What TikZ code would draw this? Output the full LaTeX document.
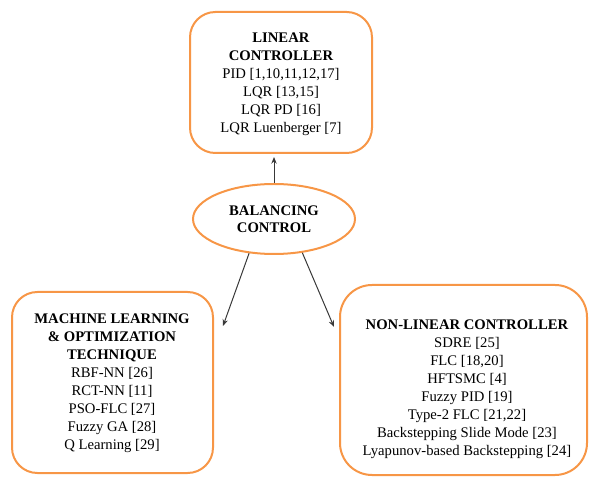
\documentclass[tikz,border=0pt]{standalone}
\usepackage{fontspec}
\setmainfont{Liberation Serif}
\usetikzlibrary{arrows.meta,shapes.geometric}

\definecolor{boxorange}{RGB}{247,150,70}
\definecolor{arrowgray}{RGB}{56,56,56}

\tikzset{
  panel/.style={draw=boxorange,line width=1.5pt,rounded corners=#1,fill=white},
  panel/.default=19pt,
  hub/.style={ellipse,draw=boxorange,line width=1.5pt,align=center,
    inner sep=0pt,minimum width=121.5pt,minimum height=52.5pt,
    font=\fontsize{11}{13}\selectfont\bfseries},
  entries/.style={align=center,font=\fontsize{11}{13.5}\selectfont},
  link/.style={->,draw=arrowgray,line width=0.75pt}
}

\begin{document}
\begin{tikzpicture}[x=0.75pt,y=-0.75pt,>={Stealth[length=5pt,width=4pt]}]
      \useasboundingbox (0,0) rectangle (589,484);

      % boxes
      \node[panel,minimum width=136.5pt,minimum height=105.75pt] (linbox) at (281,82.5) {};
      \node[panel,minimum width=150.75pt,minimum height=135.75pt] (mlbox)  at (112.5,382.5) {};
      \node[panel=24pt,minimum width=185.25pt,minimum height=142.5pt] (nlbox) at (463.5,380) {};
      \node[hub] (ctrl) at (274,219) {BALANCING\\CONTROL};

      % contents
      \node[entries] (lintext) at (281,84) {\textbf{LINEAR}\\\textbf{CONTROLLER}\\PID [1,10,11,12,17]\\LQR [13,15]\\LQR PD [16]\\LQR Luenberger [7]};
      \node[entries] (mltext) at (112,383) {\textbf{MACHINE LEARNING}\\\textbf{\& OPTIMIZATION}\\\textbf{TECHNIQUE}\\RBF-NN [26]\\RCT-NN [11]\\PSO-FLC [27]\\Fuzzy GA [28]\\Q Learning [29]};
      \node[entries] (nltext) at (467,389) {\textbf{NON-LINEAR CONTROLLER}\\SDRE [25]\\FLC [18,20]\\HFTSMC [4]\\Fuzzy PID [19]\\Type-2 FLC [21,22]\\Backstepping Slide Mode [23]\\Lyapunov-based Backstepping [24]};

      % arrow ends
      \coordinate (linin) at (274,157);
      \coordinate (mlin)  at (223,326);
      \coordinate (nlin)  at (334,327);

      \draw[link] (ctrl.north) -- (linin);
      \draw[link] (ctrl.234) -- (mlin);
      \draw[link] (ctrl.310) -- (nlin);
    \end{tikzpicture}
\end{document}
